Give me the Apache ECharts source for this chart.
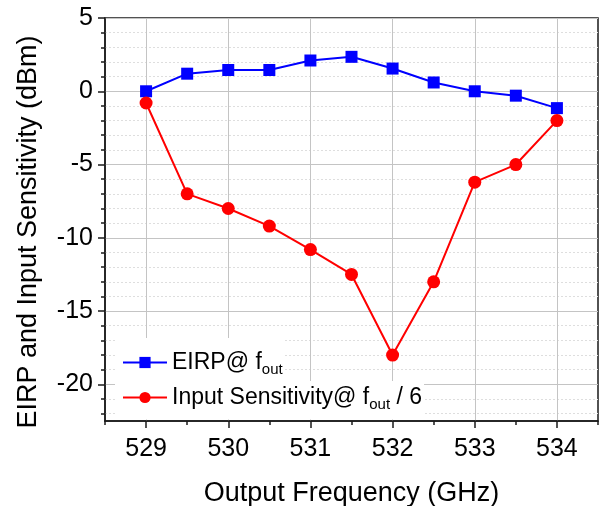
<!DOCTYPE html>
<html>
<head>
<meta charset="utf-8">
<script src="https://cdn.jsdelivr.net/npm/echarts@6/dist/echarts.min.js"></script>
<style>
  html, body { margin: 0; padding: 0; background: #fff; }
  #chart { width: 603px; height: 506px; }
</style>
</head>
<body>
<div id="chart"></div>
<script>
// output frequency (GHz)
const freqs = [529, 529.5, 530, 530.5, 531, 531.5, 532, 532.5, 533, 533.5, 534];
// EIRP @ fout (dBm)
const eirp = [0, 1.2, 1.45, 1.45, 2.1, 2.35, 1.55, 0.6, 0, -0.3, -1.15];
// input sensitivity @ fout/6 (dBm)
const sensitivity = [-0.8, -7, -8, -9.2, -10.8, -12.5, -18, -13, -6.2, -5, -2];

const xMajorTicks = [529, 530, 531, 532, 533, 534];
const xMinorTicks = [528.5, 529.5, 530.5, 531.5, 532.5, 533.5, 534.5];
const yMajorTicks = [-20, -15, -10, -5, 0, 5];
const yMinorTicks = [-22, -21, -19, -18, -17, -16, -14, -13, -12, -11, -9, -8, -7, -6, -4, -3, -2, -1, 1, 2, 3, 4];

const FONT = '"Liberation Sans", Arial, sans-serif';
const AXIS_COLOR = '#1a1a1a';

const chart = echarts.init(document.getElementById('chart'));

const pairs = (ys) => freqs.map((f, i) => [f, ys[i]]);

// legend text with the "out" subscript
function legendText(name) {
  if (name === 'EIRP') return '{m|EIRP@ f}{s|out}';
  return '{m|Input Sensitivity@ f}{s|out}{m| / 6}';
}
const legendTextStyle = {
  fontFamily: FONT,
  fontSize: 23,
  color: '#000',
  rich: {
    m: { fontFamily: FONT, fontSize: 23, color: '#000', lineHeight: 30 },
    s: { fontFamily: FONT, fontSize: 15, color: '#000', lineHeight: 14, verticalAlign: 'bottom' },
  },
};

const option = {
  backgroundColor: '#fff',
  animation: false,
  grid: {
    left: 105,
    right: 5,
    top: 18,
    bottom: 85,
    outerBoundsMode: 'none',
    show: true,
    backgroundColor: '#fff',
    borderColor: AXIS_COLOR,
    borderWidth: 1.5,
  },
  legend: [
    {
      data: ['EIRP'],
      left: 115,
      top: 338,
      padding: [13, 2, 8, 7],
      backgroundColor: '#fff',
      itemWidth: 44,
      itemHeight: 14,
      selectedMode: false,
      formatter: legendText,
      textStyle: legendTextStyle,
    },
    {
      data: ['Input Sensitivity'],
      left: 115,
      top: 381,
      padding: [5, 2, 7, 7],
      backgroundColor: '#fff',
      itemWidth: 44,
      itemHeight: 14,
      selectedMode: false,
      formatter: legendText,
      textStyle: legendTextStyle,
    },
  ],
  xAxis: [
    {
      type: 'value',
      min: 528.5,
      max: 534.5,
      name: 'Output Frequency (GHz)',
      nameLocation: 'middle',
      nameGap: 59,
      nameTextStyle: { fontFamily: FONT, fontSize: 27, color: '#000' },
      axisLine: { show: true, onZero: false, lineStyle: { color: AXIS_COLOR, width: 1.5 } },
      axisTick: { show: true, inside: false, length: 7, customValues: xMajorTicks, lineStyle: { color: AXIS_COLOR, width: 1.5 } },
      axisLabel: { customValues: xMajorTicks, margin: 16, fontFamily: FONT, fontSize: 25, color: '#000' },
      splitLine: { show: true, lineStyle: { color: '#c4c4c4', width: 1 } },
      z: 3,
    },
    {
      type: 'value',
      min: 528.5,
      max: 534.5,
      position: 'bottom',
      axisLine: { show: false, onZero: false },
      axisTick: { show: true, inside: false, length: 4, customValues: xMinorTicks, lineStyle: { color: AXIS_COLOR, width: 1.5 } },
      axisLabel: { show: false },
      splitLine: { show: false },
    },
  ],
  yAxis: [
    {
      type: 'value',
      min: -22.5,
      max: 5,
      name: 'EIRP and Input Sensitivity (dBm)',
      nameLocation: 'middle',
      nameGap: 63,
      nameTextStyle: { fontFamily: FONT, fontSize: 27, color: '#000', padding: [0, 25, 0, 0] },
      axisLine: { show: true, onZero: false, lineStyle: { color: AXIS_COLOR, width: 1.5 } },
      axisTick: { show: true, inside: false, length: 7, customValues: yMajorTicks, lineStyle: { color: AXIS_COLOR, width: 1.5 } },
      axisLabel: { customValues: yMajorTicks, margin: 12, fontFamily: FONT, fontSize: 25, color: '#000' },
      splitLine: { show: true, lineStyle: { color: '#c4c4c4', width: 1 } },
      z: 3,
    },
    {
      type: 'value',
      min: -22.5,
      max: 5,
      position: 'left',
      axisLine: { show: false, onZero: false },
      axisTick: { show: true, inside: false, length: 4, customValues: yMinorTicks, lineStyle: { color: AXIS_COLOR, width: 1.5 } },
      axisLabel: { show: false },
      splitLine: { show: true, lineStyle: { color: '#dedede', width: 1, type: [2, 2] } },
    },
  ],
  series: [
    {
      name: 'EIRP',
      type: 'line',
      data: pairs(eirp),
      symbol: 'rect',
      symbolSize: 12,
      color: '#0000ff',
      lineStyle: { color: '#0000ff', width: 2 },
      itemStyle: { color: '#0000ff' },
      z: 5,
    },
    {
      name: 'Input Sensitivity',
      type: 'line',
      data: pairs(sensitivity),
      symbol: 'circle',
      symbolSize: 13,
      color: '#ff0000',
      lineStyle: { color: '#ff0000', width: 2 },
      itemStyle: { color: '#ff0000' },
      z: 5,
    },
  ],
};

chart.setOption(option);
</script>
</body>
</html>
